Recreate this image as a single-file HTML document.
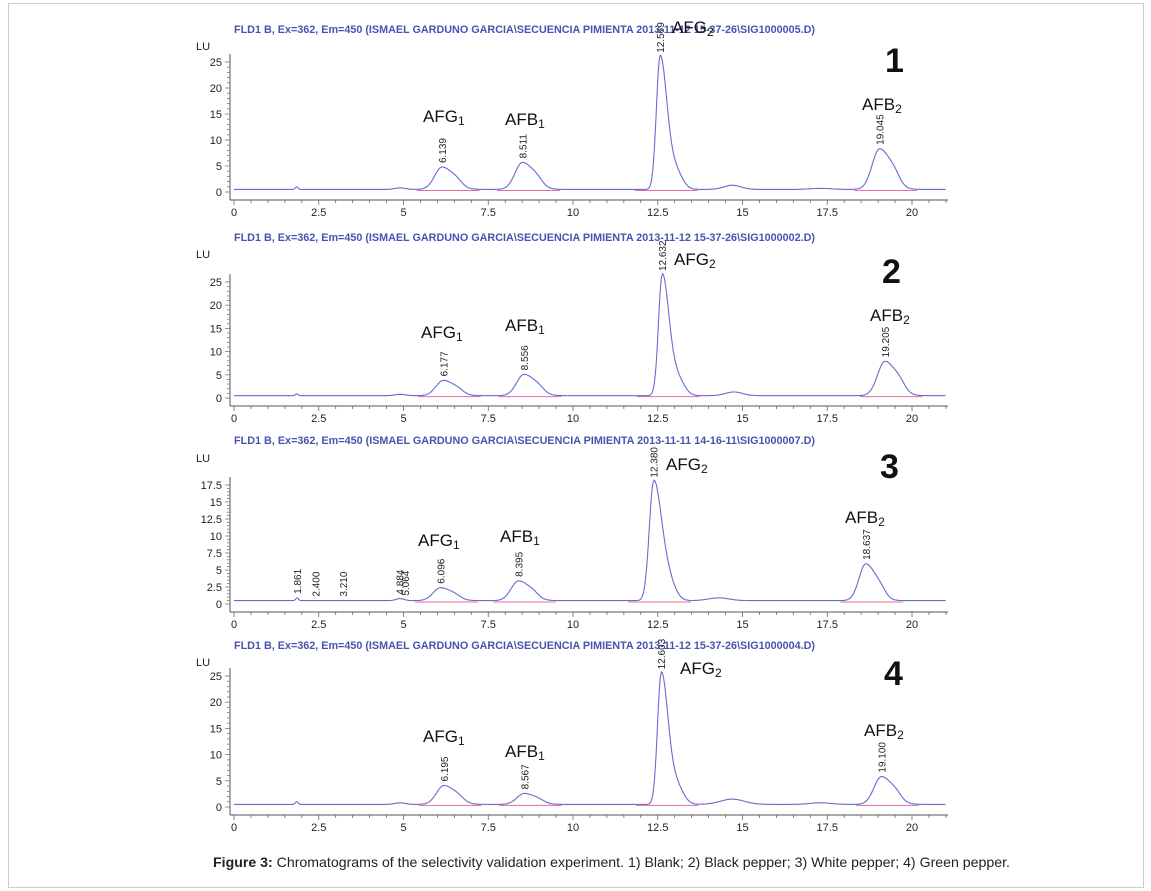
<!DOCTYPE html>
<html><head><meta charset="utf-8"><style>
body{margin:0;background:#fff;}
svg{display:block;font-family:"Liberation Sans",sans-serif;}
.t{fill:#4a52b0;font-size:10.8px;font-weight:bold;}
.ax{font-size:11px;fill:#222;}
.lab{font-size:17px;fill:#111;}
.rt{font-size:10px;fill:#222;}
.num{font-size:34px;fill:#111;font-weight:bold;}
</style></head><body>
<svg id="s" width="1151" height="891" viewBox="0 0 1151 891">
<rect x="8.5" y="3.5" width="1135" height="884" fill="#fff" stroke="#ccc"/>
<g id="g"></g>
<text class="t" x="234" y="33" textLength="581" lengthAdjust="spacingAndGlyphs">FLD1 B, Ex=362, Em=450 (ISMAEL GARDUNO GARCIA\SECUENCIA PIMIENTA 2013-11-12 15-37-26\SIG1000005.D)</text>
<text class="t" x="234" y="241" textLength="581" lengthAdjust="spacingAndGlyphs">FLD1 B, Ex=362, Em=450 (ISMAEL GARDUNO GARCIA\SECUENCIA PIMIENTA 2013-11-12 15-37-26\SIG1000002.D)</text>
<text class="t" x="234" y="444" textLength="581" lengthAdjust="spacingAndGlyphs">FLD1 B, Ex=362, Em=450 (ISMAEL GARDUNO GARCIA\SECUENCIA PIMIENTA 2013-11-11 14-16-11\SIG1000007.D)</text>
<text class="t" x="234" y="649" textLength="581" lengthAdjust="spacingAndGlyphs">FLD1 B, Ex=362, Em=450 (ISMAEL GARDUNO GARCIA\SECUENCIA PIMIENTA 2013-11-12 15-37-26\SIG1000004.D)</text>

<text class="lab" x="423" y="122">AFG<tspan font-size="12" dy="3">1</tspan></text>
<text class="lab" x="505" y="125">AFB<tspan font-size="12" dy="3">1</tspan></text>
<text class="lab" x="672" y="33">AFG<tspan font-size="12" dy="3">2</tspan></text>
<text class="lab" x="862" y="110">AFB<tspan font-size="12" dy="3">2</tspan></text>
<text class="num" x="885" y="72">1</text>

<text class="lab" x="421" y="338">AFG<tspan font-size="12" dy="3">1</tspan></text>
<text class="lab" x="505" y="331">AFB<tspan font-size="12" dy="3">1</tspan></text>
<text class="lab" x="674" y="265">AFG<tspan font-size="12" dy="3">2</tspan></text>
<text class="lab" x="870" y="321">AFB<tspan font-size="12" dy="3">2</tspan></text>
<text class="num" x="882" y="283">2</text>

<text class="lab" x="418" y="546">AFG<tspan font-size="12" dy="3">1</tspan></text>
<text class="lab" x="500" y="542">AFB<tspan font-size="12" dy="3">1</tspan></text>
<text class="lab" x="666" y="470">AFG<tspan font-size="12" dy="3">2</tspan></text>
<text class="lab" x="845" y="523">AFB<tspan font-size="12" dy="3">2</tspan></text>
<text class="num" x="880" y="478">3</text>

<text class="lab" x="423" y="742">AFG<tspan font-size="12" dy="3">1</tspan></text>
<text class="lab" x="505" y="757">AFB<tspan font-size="12" dy="3">1</tspan></text>
<text class="lab" x="680" y="674">AFG<tspan font-size="12" dy="3">2</tspan></text>
<text class="lab" x="864" y="736">AFB<tspan font-size="12" dy="3">2</tspan></text>
<text class="num" x="884" y="685">4</text>

<text x="213" y="867" font-size="13.6" fill="#222" textLength="797" lengthAdjust="spacingAndGlyphs"><tspan font-weight="bold">Figure 3:</tspan> Chromatograms of the selectivity validation experiment. 1) Blank; 2) Black pepper; 3) White pepper; 4) Green pepper.</text>
</svg>
<script>
var g=document.getElementById('g'),NS='http://www.w3.org/2000/svg';
function el(n,a,t){var e=document.createElementNS(NS,n);for(var k in a)e.setAttribute(k,a[k]);if(t)e.textContent=t;g.appendChild(e);return e;}
var X=function(v){return 234+v*33.9;};
var panels=[
{y0:192,k:5.2,axis:200,ymax:25,step:5,labs:[0,5,10,15,20,25],lu:50,
 peaks:[[1.85,0.5,0.04],[4.9,0.3,0.15],[6.139,4.3,0.22,1],[8.511,5.2,0.22,1],[12.569,25.5,0.11,2],[14.7,0.8,0.25],[17.3,0.2,0.3],[19.045,7.8,0.22,1]],rts:[[6.139,'6.139'],[8.511,'8.511'],[12.569,'12.569'],[19.045,'19.045']]},
{y0:398,k:4.64,axis:406,ymax:25,step:5,labs:[0,5,10,15,20,25],lu:258,
 peaks:[[1.85,0.4,0.04],[4.9,0.3,0.15],[6.177,3.3,0.22,1],[8.556,4.6,0.22,1],[12.632,26,0.11,2],[14.75,0.8,0.25],[19.205,7.4,0.22,1]],rts:[[6.177,'6.177'],[8.556,'8.556'],[12.632,'12.632'],[19.205,'19.205']]},
{y0:604,k:6.8,axis:612,ymax:17.5,step:2.5,labs:[0,2.5,5,7.5,10,12.5,15,17.5],lu:462,
 peaks:[[1.86,0.4,0.04],[4.9,0.3,0.12],[6.096,1.9,0.22,1],[8.395,2.9,0.22,1],[12.38,17.5,0.13,2],[14.3,0.4,0.3],[18.637,5.4,0.2,1]],rts:[[1.861,'1.861'],[2.4,'2.400'],[3.21,'3.210'],[4.884,'4.884'],[5.05,'5.064'],[6.096,'6.096'],[8.395,'8.395'],[12.38,'12.380'],[18.637,'18.637']]},
{y0:807,k:5.24,axis:815,ymax:25,step:5,labs:[0,5,10,15,20,25],lu:666,
 peaks:[[1.85,0.5,0.04],[4.9,0.3,0.15],[6.195,3.6,0.22,1],[8.567,2.1,0.22,1],[12.603,25,0.11,2],[14.7,1.0,0.35],[17.3,0.3,0.3],[19.1,5.3,0.22,1]],rts:[[6.195,'6.195'],[8.567,'8.567'],[12.603,'12.603'],[19.1,'19.100']]}
];
function f(p,x){var y=0.5;p.peaks.forEach(function(q){var d=x-q[0],s=q[2];if(q[3]&&d>0)s*=q[3]==2?1.8:1.5;y+=q[1]*Math.exp(-d*d/(2*s*s));if(q[3]==2&&d>0)y+=q[1]*0.14*Math.exp(-Math.pow(d-0.45,2)/(2*0.2*0.2));if(q[3]==1&&d>0)y+=q[1]*0.15*Math.exp(-Math.pow(d-0.45,2)/(2*0.15*0.15));});return y;}
panels.forEach(function(p){
 var top=p.y0-p.ymax*p.k-8;
 el('line',{x1:230,y1:top,x2:230,y2:p.axis,stroke:'#555','stroke-width':1});
 for(var v=0;v<=p.ymax+0.01;v+=p.step/5){var yy=p.y0-v*p.k;el('line',{x1:(Math.abs(v/p.step-Math.round(v/p.step))<0.01)?225:227,y1:yy,x2:230,y2:yy,stroke:'#777','stroke-width':0.8});}
 p.labs.forEach(function(v){el('text',{x:222,y:p.y0-v*p.k+4,'text-anchor':'end','class':'ax'},String(v));});
 el('text',{x:196,y:p.lu,'class':'ax'},'LU');
 el('line',{x1:230,y1:p.axis,x2:948,y2:p.axis,stroke:'#555','stroke-width':1});
 for(var v=0;v<=21;v+=0.5){el('line',{x1:X(v),y1:p.axis,x2:X(v),y2:p.axis+(v%2.5==0?5:3),stroke:'#666','stroke-width':0.8});}
 [0,2.5,5,7.5,10,12.5,15,17.5,20].forEach(function(v){el('text',{x:X(v),y:p.axis+16,'text-anchor':'middle','class':'ax'},String(v));});
 p.peaks.forEach(function(q){if(q[3]){el('line',{x1:X(q[0]-0.75),y1:p.y0-0.3*p.k,x2:X(q[0]+1.1),y2:p.y0-0.3*p.k,stroke:'#e070a0','stroke-width':1});}});
 var d='';for(var x=0;x<=21;x+=0.01){d+=(x?'L':'M')+X(x).toFixed(1)+' '+(p.y0-f(p,x)*p.k).toFixed(1);}
 el('path',{d:d,fill:'none',stroke:'#6a6ad0','stroke-width':1.1});
 p.rts.forEach(function(r){var yy=p.y0-f(p,r[0])*p.k-4;el('text',{x:X(r[0])+4,y:yy,'class':'rt',transform:'rotate(-90 '+(X(r[0])+4)+' '+yy+')'},r[1]);});
});
</script>
</body></html>
